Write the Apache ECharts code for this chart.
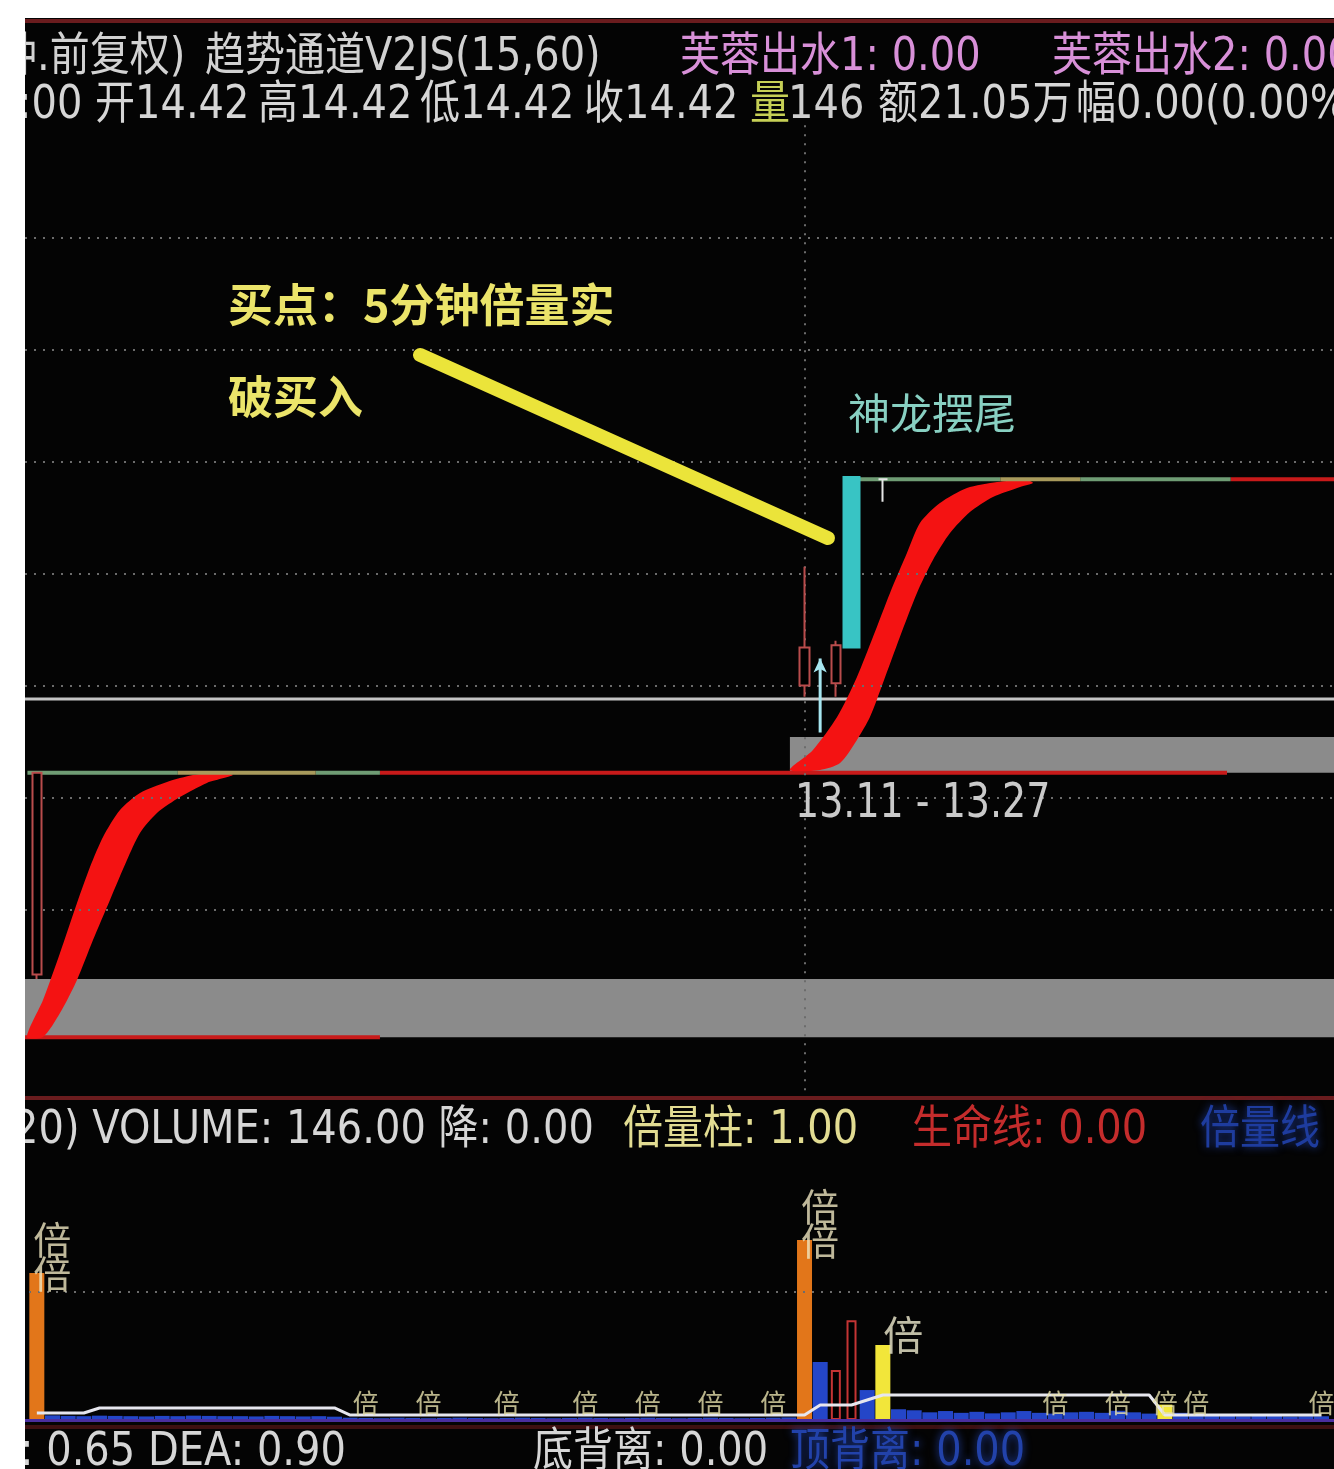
<!DOCTYPE html>
<html>
<head>
<meta charset="utf-8">
<script src="https://cdn.jsdelivr.net/npm/echarts/dist/echarts.min.js"></script>
<style>html,body{margin:0;padding:0;background:#fff}#c{width:1334px;height:1469px}</style>
</head>
<body>
<div id="c"></div>
<script>
// ---------------- data ----------------
const barCount = 83;
const categories = Array.from({length: barCount}, (_, i) => String(i + 1));

const priceMin = 11.65, priceMax = 16.47;
const barMinX = -0.755, barMaxX = 82.8;

const gridPrices = [12.5, 13.0, 13.5, 14.0, 14.5, 15.0, 15.5];
const dayBreakBar = 49;

// [bar, open, close, low, high]
const candles = [[0, 12.21, 13.11, 12.19, 13.11], [49, 13.50, 13.67, 13.45, 14.03], [51, 13.51, 13.68, 13.45, 13.70], [54, 14.42, 14.42, 14.32, 14.42]];
const bigCandles = [[52, 14.43, 13.67, 13.67, 14.43]];
const arrowMark = [[50, 13.29], [50, 13.62]];

// channel bands [fromBar, toBar, low, high]
const channelBands = [[-0.755, 82.8, 11.93, 12.19], [48.07, 82.8, 13.11, 13.27]];
const whiteLevel = 13.44;
// level segments [fromBar, toBar, price]
const greenSegs = [[-0.6, 9.0, 13.11], [17.8, 21.9, 13.11], [51.46, 61.5, 14.42], [66.6, 76.2, 14.42]];
const tanSegs = [[9.0, 17.8, 13.11], [61.5, 66.6, 14.42]];
const redSegs = [[21.9, 75.97, 13.11], [-0.755, 21.9, 11.93], [76.2, 82.8, 14.42]];

// S-shaped ribbons: outline points [bar, price]
const leftRibbonUpper = [[-0.627, 11.931], [0.394, 12.096], [1.479, 12.306], [2.564, 12.529], [3.394, 12.690], [4.224, 12.824], [5.309, 12.944], [6.585, 13.020], [8.309, 13.069], [9.968, 13.100], [11.5, 13.109]];
const leftRibbonLower = [[12.52, 13.100], [10.86, 13.065], [9.137, 13.002], [7.669, 12.931], [6.585, 12.842], [5.755, 12.721], [4.670, 12.543], [3.585, 12.364], [2.564, 12.186], [1.479, 12.038], [0.394, 11.931]];
const rightRibbonUpper = [[48.07, 13.123], [49.54, 13.212], [51.08, 13.359], [52.35, 13.538], [53.37, 13.716], [54.46, 13.913], [55.54, 14.091], [56.37, 14.225], [57.65, 14.314], [59.37, 14.381], [61.29, 14.408], [63.2, 14.417]];
const rightRibbonLower = [[63.58, 14.404], [62.76, 14.386], [61.03, 14.341], [59.56, 14.274], [58.29, 14.180], [57.2, 14.060], [56.18, 13.913], [55.09, 13.716], [54.01, 13.511], [53.18, 13.359], [52.35, 13.257], [51.27, 13.154], [49.99, 13.123]];
const pointerLine = [[24.46, 14.975], [50.5, 14.158]];

const volumes = [5740,
  180, 160, 150, 170, 160, 150, 140, 160, 150, 170, 160, 150, 150, 140, 160, 150, 140, 150, 130,
  90, 80, 70, 90, 80, 70, 80, 90, 80, 70, 80, 90, 80, 70, 80, 90, 80, 70, 80, 90, 80, 70, 80, 90, 80, 70, 80, 90, 100,
  7030, 2265, 1950, 3900, 1170, 2930,
  420, 380, 300, 350, 280, 320, 260, 300, 350, 280, 250, 300, 320, 280, 360, 300, 250,
  600,
  280, 200, 180, 160, 150, 170, 160, 140, 150, 146];
const volMA = [275, 275, 275, 275,
  470, 470, 470, 470, 470, 470, 470, 470, 470, 470, 470, 470, 470, 470, 470, 470,
  195, 195, 195, 195, 195, 195, 195, 195, 195, 195, 195, 195, 195, 195, 195, 195, 195, 195, 195, 195, 195, 195, 195, 195, 195, 195, 195, 195, 195, 195,
  585, 585, 585, 780,
  975, 975, 975, 975, 975, 975, 975, 975, 975, 975, 975, 975, 975, 975, 975, 975, 975, 975,
  195, 195, 195, 195, 195, 195, 195, 195, 195, 195, 195];
const bigVolIdx = [0, 49];
const hollowVolIdx = [51, 52];
const yellowVolIdx = [54, 72];
const smallTagIdx = [21, 25, 30, 35, 39, 43, 47, 65, 69, 72, 74, 82];
const singleTagIdx = [54];
const volGridValue = 5000;

// ---------------- chart ----------------
const FONT = "'DejaVu Sans','Noto Sans CJK SC',sans-serif";
const CJK = "'Noto Sans CJK SC',sans-serif";
const chart = echarts.init(document.getElementById('c'), null, {renderer: 'canvas'});

const BAR_W = 15.667;
const catWidth = barCount * BAR_W;
const dotted = {color: '#6c6c6c', width: 2, type: [2, 7]};

function segSeries(segs, color, z) {
  return segs.map(s => ({
    type: 'line', xAxisIndex: 1, yAxisIndex: 1, data: [[s[0], s[2]], [s[1], s[2]]],
    symbol: 'none', z, silent: true, lineStyle: {color, width: 4}
  }));
}
function ribbonSeries(outline) {
  return {
    type: 'custom', xAxisIndex: 1, yAxisIndex: 1, z: 3, silent: true,
    data: outline, encode: {x: 0, y: 1},
    renderItem: (params, api) => {
      if (params.dataIndex !== 0) return null;
      return {type: 'polygon', shape: {points: outline.map(p => api.coord(p)), smooth: 0.25}, style: {fill: '#f41212'}};
    }
  };
}
function txt(x, y, text, fill, size, o = {}) {
  return {
    type: 'text', x, y, z: 10, scaleY: o.sy || 1.15, silent: true,
    style: {text, fill, font: (o.bold ? 'bold ' : '') + size + 'px ' + (o.family || FONT),
      align: 'left', verticalAlign: 'middle', textShadowBlur: o.blur || 0, textShadowColor: o.blur ? fill : 'transparent'}
  };
}

const candleStyle = {color: '#000', color0: '#38c4c4', borderColor: '#b94c4c', borderColor0: '#38c4c4', borderColorDoji: '#e6e6e6', borderWidth: 2};

const series = [
  { // channel bands
    type: 'custom', xAxisIndex: 1, yAxisIndex: 1, z: 1, silent: true,
    data: channelBands, encode: {x: [0, 1], y: [2, 3]},
    renderItem: (params, api) => {
      const a = api.coord([api.value(0), api.value(3)]);
      const b = api.coord([api.value(1), api.value(2)]);
      return {type: 'rect', shape: {x: a[0], y: a[1], width: b[0] - a[0], height: b[1] - a[1]}, style: {fill: '#8b8b8b'}};
    }
  },
  { // white level + grid dotted lines
    type: 'line', xAxisIndex: 1, yAxisIndex: 1, z: 2, silent: true, symbol: 'none',
    data: [[barMinX, whiteLevel], [barMaxX, whiteLevel]],
    lineStyle: {color: '#c4c4c4', width: 3},
    markLine: {
      silent: true, symbol: 'none', label: {show: false}, lineStyle: dotted, animation: false,
      data: gridPrices.map(v => ({yAxis: v})).concat([[{coord: [dayBreakBar, 16.0]}, {coord: [dayBreakBar, priceMin]}]])
    }
  },
  ...segSeries(redSegs, '#c81a1a', 2),
  ribbonSeries(leftRibbonUpper.concat(leftRibbonLower)),
  ribbonSeries(rightRibbonUpper.concat(rightRibbonLower)),
  ...segSeries(greenSegs, '#6f9c74', 4),
  ...segSeries(tanSegs, '#a89a5c', 4),
  { // pointer
    type: 'line', xAxisIndex: 1, yAxisIndex: 1, z: 6, silent: true, symbol: 'none',
    data: pointerLine, lineStyle: {color: '#ebe43a', width: 14, cap: 'round'}
  },
  { // small arrow
    type: 'line', xAxisIndex: 1, yAxisIndex: 1, z: 6, silent: true,
    data: arrowMark, symbol: (v, p) => p.dataIndex === 1 ? 'arrow' : 'none', symbolSize: [10, 14],
    itemStyle: {color: '#a6e6f0'}, lineStyle: {color: '#a6e6f0', width: 3}
  },
  {
    type: 'candlestick', xAxisIndex: 0, yAxisIndex: 0, z: 5, silent: true, barWidth: 10,
    data: candles, encode: {x: 0, y: [1, 2, 3, 4]}, itemStyle: candleStyle
  },
  {
    type: 'candlestick', xAxisIndex: 0, yAxisIndex: 0, z: 5, silent: true, barWidth: 17,
    data: bigCandles, encode: {x: 0, y: [1, 2, 3, 4]}, itemStyle: candleStyle
  },
  // volume
  {
    type: 'bar', xAxisIndex: 2, yAxisIndex: 2, z: 2, silent: true, barWidth: 15,
    data: volumes.map((v, i) => hollowVolIdx.includes(i) ? '-' : v),
    itemStyle: {color: p => bigVolIdx.includes(p.dataIndex) ? '#e2761a' : (yellowVolIdx.includes(p.dataIndex) ? '#f2e63a' : '#2446c8')}
  },
  {
    type: 'bar', xAxisIndex: 3, yAxisIndex: 3, z: 2, silent: true, barWidth: 10,
    data: volumes.map((v, i) => hollowVolIdx.includes(i) ? v : '-'),
    itemStyle: {color: '#000', borderColor: '#c43434', borderWidth: 2}
  },
  {
    type: 'line', xAxisIndex: 2, yAxisIndex: 2, z: 4, silent: true, symbol: 'none',
    data: volMA, lineStyle: {color: '#e6e6ee', width: 3},
    markLine: {silent: true, symbol: 'none', label: {show: false}, lineStyle: dotted, animation: false, data: [{yAxis: volGridValue}]}
  },
  {
    type: 'scatter', xAxisIndex: 2, yAxisIndex: 2, z: 5, silent: true, symbolSize: 1,
    itemStyle: {color: 'transparent'},
    data: smallTagIdx.map(i => [i, 0]),
    label: {show: true, formatter: '倍', position: 'top', distance: 3, color: '#e8e2ae', fontSize: 26, fontFamily: CJK}
  },
  {
    type: 'scatter', xAxisIndex: 2, yAxisIndex: 2, z: 5, silent: true, symbolSize: 1,
    itemStyle: {color: 'transparent'},
    data: bigVolIdx.map(i => [i, volumes[i]]),
    label: {show: true, formatter: '倍\n倍', position: [-3, -50], align: 'left', verticalAlign: 'top',
      color: '#efe6c0', fontSize: 38, lineHeight: 34, fontFamily: CJK}
  },
  {
    type: 'scatter', xAxisIndex: 2, yAxisIndex: 2, z: 5, silent: true, symbolSize: 1,
    itemStyle: {color: 'transparent'},
    data: singleTagIdx.map(i => [i, volumes[i]]),
    label: {show: true, formatter: '倍', position: [1, -30], align: 'left', verticalAlign: 'top',
      color: '#f0ecd0', fontSize: 40, fontFamily: CJK}
  }
];

const graphic = [
  // header line 1
  txt(-3, 58, '钟.前复权)', '#d2d2d2', 40),
  txt(205, 58, '趋势通道V2JS(15,60)', '#d2d2d2', 40),
  txt(680, 58, '芙蓉出水1: 0.00', '#d890d8', 40),
  txt(1052, 58, '芙蓉出水2: 0.00', '#d890d8', 40),
  // header line 2
  txt(18, 106, ':00', '#d6d6d6', 40),
  txt(95, 106, '开14.42', '#d6d6d6', 40),
  txt(258, 106, '高14.42', '#d6d6d6', 40),
  txt(420, 106, '低14.42', '#d6d6d6', 40),
  txt(584, 106, '收14.42', '#d6d6d6', 40),
  txt(750, 106, '量', '#c6d056', 40),
  txt(788, 106, '146', '#cfcfcf', 40),
  txt(878, 106, '额21.05万', '#d6d6d6', 40),
  txt(1076, 106, '幅0.00(0.00%', '#d6d6d6', 40),
  // annotations
  txt(228, 305, '买点：5分钟倍量实', '#ebe46a', 45, {bold: true, family: CJK, sy: 1}),
  txt(228, 397, '破买入', '#ebe46a', 45, {bold: true, family: CJK, sy: 1}),
  txt(848, 413, '神龙摆尾', '#88d0c2', 42, {family: CJK, sy: 1}),
  txt(795, 805, channelBands[1][2].toFixed(2) + ' - ' + channelBands[1][3].toFixed(2), '#cacaca', 38, {sy: 1.25}),
  // volume header
  txt(13, 1131, '20) VOLUME: 146.00 降: 0.00', '#d6d6d6', 40),
  txt(623, 1131, '倍量柱: 1.00', '#e2dc92', 40),
  txt(912, 1131, '生命线: 0.00', '#c42c2c', 40),
  txt(1200, 1131, '倍量线', '#1e3c9e', 40, {blur: 8}),
  // bottom line
  txt(20, 1453, ': 0.65 DEA: 0.90', '#d6d6d6', 40),
  txt(533, 1453, '底背离: 0.00', '#d6d6d6', 40),
  txt(790, 1453, '顶背离: 0.00', '#2242aa', 40, {blur: 8}),
  // panel borders
  {type: 'rect', z: 9, silent: true, shape: {x: 25, y: 19, width: 1309, height: 4}, style: {fill: '#6a1c1e'}},
  {type: 'rect', z: 9, silent: true, shape: {x: 25, y: 1096, width: 1309, height: 4}, style: {fill: '#6a1c1e'}},
  {type: 'rect', z: 9, silent: true, shape: {x: 25, y: 1425, width: 1309, height: 4}, style: {fill: '#3e1010'}},
  {type: 'rect', z: 9, silent: true, shape: {x: 25, y: 1419, width: 1309, height: 3}, style: {fill: '#4a2e9e'}},
  // white page margins
  {type: 'rect', z: 20, silent: true, shape: {x: 0, y: 0, width: 25, height: 1469}, style: {fill: '#ffffff'}},
  {type: 'rect', z: 20, silent: true, shape: {x: 0, y: 0, width: 1334, height: 18}, style: {fill: '#ffffff'}}
];

chart.setOption({
  backgroundColor: '#040404',
  animation: false,
  grid: [
    {left: 29, top: 20, width: catWidth, height: 1080},
    {left: 25, top: 20, width: 1309, height: 1080},
    {left: 29, top: 1164, width: catWidth, height: 256},
    {left: 29, top: 1164, width: catWidth, height: 256}
  ],
  xAxis: [
    {type: 'category', gridIndex: 0, data: categories, show: false},
    {type: 'value', gridIndex: 1, min: barMinX, max: barMaxX, show: false},
    {type: 'category', gridIndex: 2, data: categories, show: false},
    {type: 'category', gridIndex: 3, data: categories, show: false}
  ],
  yAxis: [
    {type: 'value', gridIndex: 0, min: priceMin, max: priceMax, show: false},
    {type: 'value', gridIndex: 1, min: priceMin, max: priceMax, show: false},
    {type: 'value', gridIndex: 2, min: 0, max: 10000, show: false},
    {type: 'value', gridIndex: 3, min: 0, max: 10000, show: false}
  ],
  series,
  graphic
});
</script>
</body>
</html>
